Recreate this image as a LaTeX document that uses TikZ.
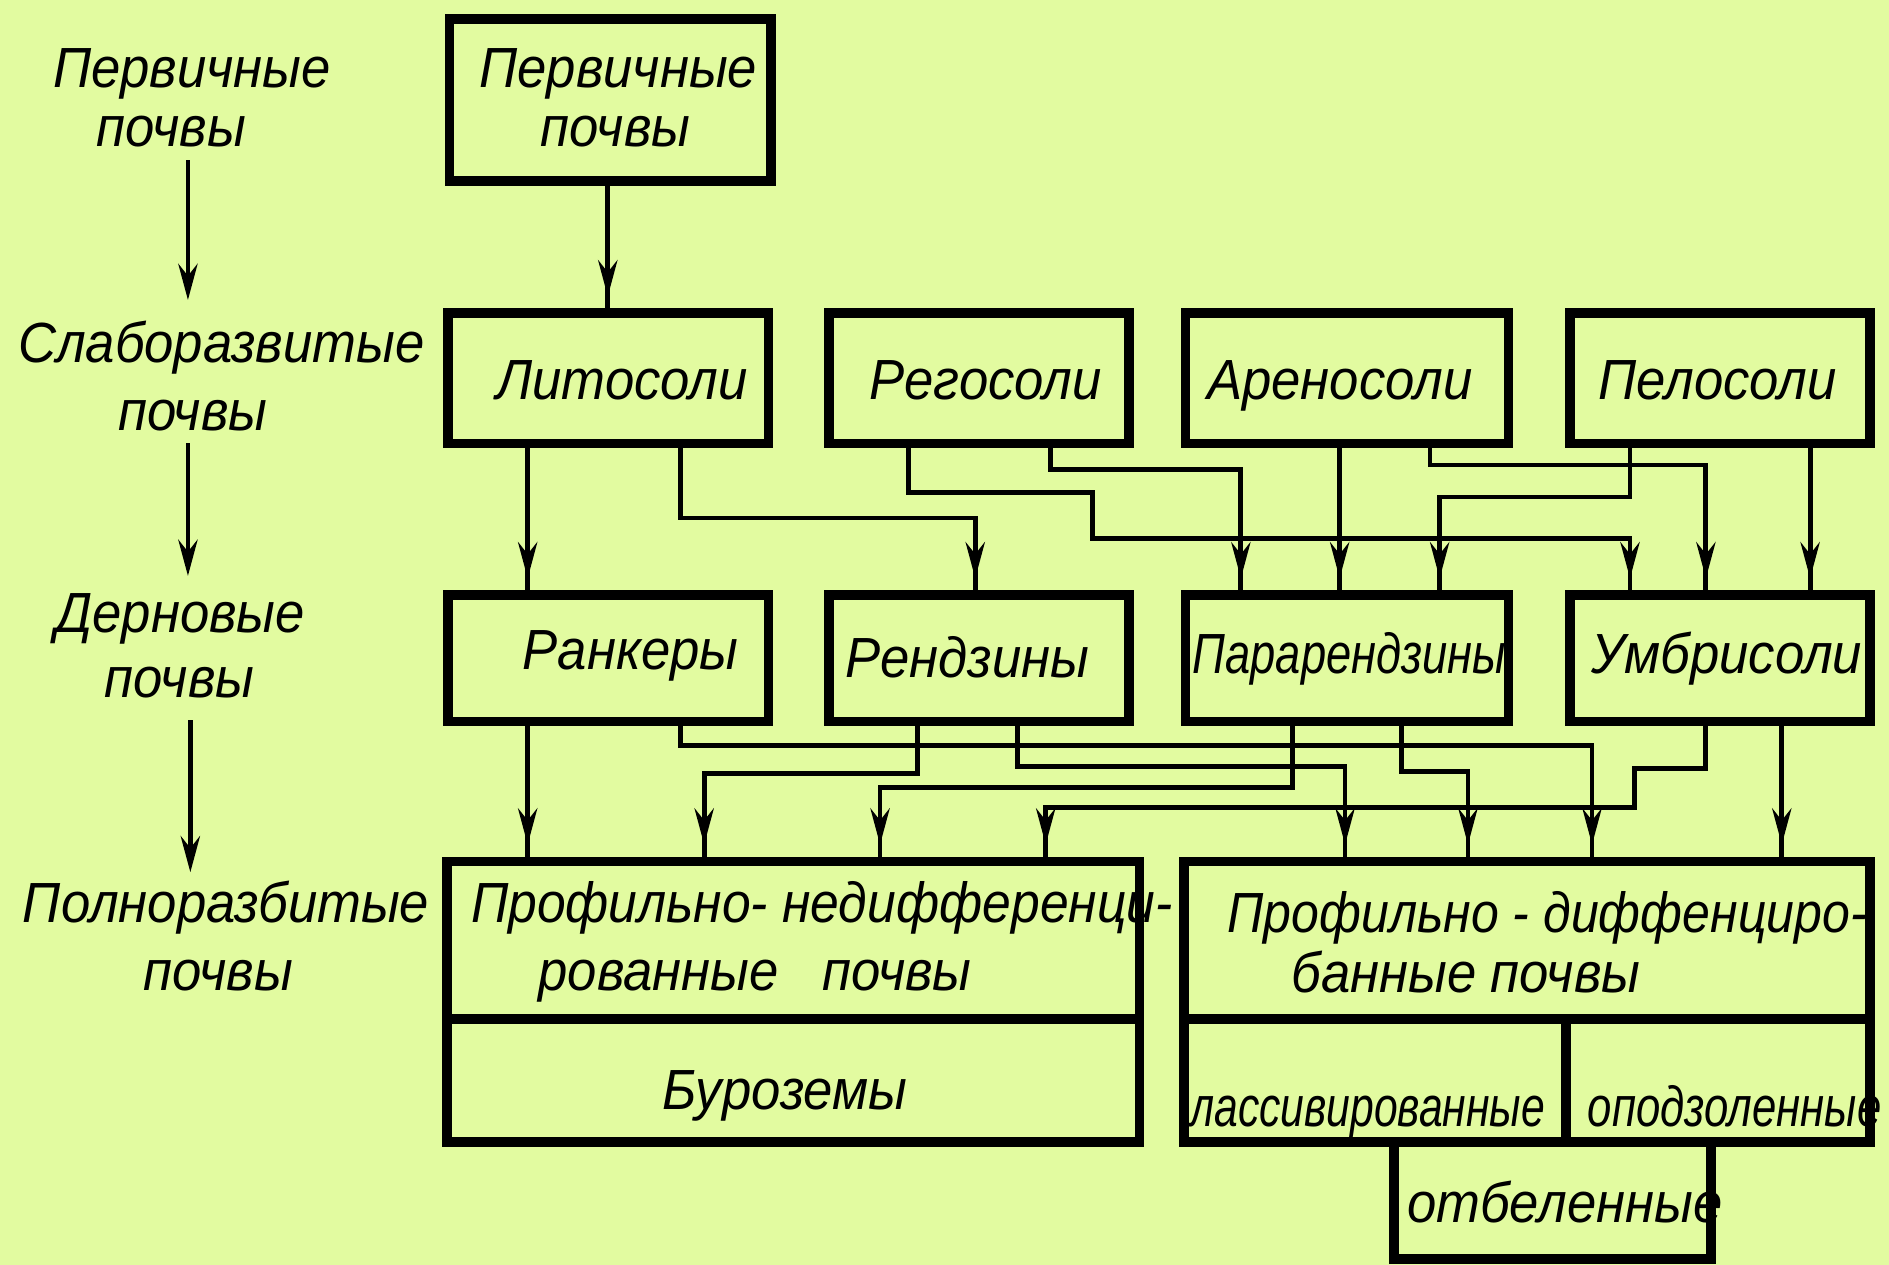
\documentclass[tikz,border=0pt]{standalone}
\usepackage{fontspec}
\setmainfont{Liberation Sans}[FakeStretch=0.93]
\usepackage{graphicx}
\usetikzlibrary{arrows.meta,decorations.markings,calc}
\definecolor{bgc}{RGB}{226,251,160}
\tikzset{
  lbl/.style={font=\fontsize{47}{56}\selectfont\itshape, inner sep=0pt, outer sep=0pt, anchor=base west},
  box/.style={draw, line width=8pt, inner sep=0pt, outer sep=0pt, rectangle},
  conn/.style={line width=4pt, postaction={decorate},
    decoration={markings, mark=at position -14pt with {\arrow{Stealth[length=30pt,width=16pt,inset=10pt]}}}},
  larr/.style={line width=4pt, -{Stealth[length=30pt,width=16pt,inset=10pt]}},
}
\begin{document}
\begin{tikzpicture}[x=1pt,y=-1pt]
\fill[bgc] (0,0) rectangle (1568,1050);
\useasboundingbox (0,0) rectangle (1568,1050);

% left-hand column labels
\node[lbl] (l1a) at (44,73) {Первичные};
\node[lbl] (l1b) at (80,122) {почвы};
\node[lbl] (l2a) at (15,301) {Слаборазвитые};
\node[lbl] (l2b) at (98,357) {почвы};
\node[lbl] (l3a) at (46,525) {Дерновые};
\node[lbl] (l3b) at (87,579) {почвы};
\node[lbl] (l4a) at (19,766) {Полноразбитые};
\node[lbl] (l4b) at (119,822) {почвы};

\draw[larr] ($(l1b.base west)+(76,11)$) -- ($(l2a.base west)+(141,-52)$);
\draw[larr] ($(l2b.base west)+(58,11)$) -- ($(l3a.base west)+(110,-47)$);
\draw[larr] ($(l3b.base west)+(71,19)$) -- ($(l4a.base west)+(139,-42)$);

% texts of the boxes
\node[lbl] (t0a) at (398,73) {Первичные};
\node[lbl] (t0b) at (449,122) {почвы};
\node[lbl] (tLito) at (412,332) {Литосоли};
\node[lbl] (tRego) at (722,332) {Регосоли};
\node[lbl] (tAren) at (1002,332) {Ареносоли};
\node[lbl] (tPelo) at (1327,332) {Пелосоли};
\node[lbl] (tRank) at (434,556) {Ранкеры};
\node[lbl] (tRend) at (702,562) {Рендзины};
\node[lbl] (tPara) at (990,559) {\scalebox{0.86}[1]{Парарендзины}};
\node[lbl] (tUmbr) at (1321,559) {Умбрисоли};
\node[lbl] (tPN1) at (391,766) {\scalebox{0.98}[1]{Профильно- недифференци-}};
\node[lbl] (tPN2) at (447,822) {рованные\hspace{24pt} почвы};
\node[lbl] (tBur) at (550,921) {Буроземы};
\node[lbl] (tPD1) at (1019,774) {\scalebox{0.95}[1]{Профильно - диффенциро-}};
\node[lbl] (tPD2) at (1072,824) {банные почвы};
\node[lbl] (tLas) at (988,935) {\scalebox{0.81}[1]{лассивированные}};
\node[lbl] (tOpo) at (1318,935) {\scalebox{0.83}[1]{оподзоленные}};
\node[lbl] (tOtb) at (1168,1015) {отбеленные};

% boxes
\node[box, minimum width=267pt, minimum height=134pt] (P0) at (506.5,83) {};
\node[box, minimum width=266pt, minimum height=108pt] (Lito) at (505,314) {};
\node[box, minimum width=249pt, minimum height=108pt] (Rego) at (812.5,314) {};
\node[box, minimum width=268pt, minimum height=108pt] (Aren) at (1118,314) {};
\node[box, minimum width=249pt, minimum height=108pt] (Pelo) at (1427.5,314) {};
\node[box, minimum width=266pt, minimum height=105pt] (Rank) at (505,546.5) {};
\node[box, minimum width=249pt, minimum height=105pt] (Rend) at (812.5,546.5) {};
\node[box, minimum width=268pt, minimum height=105pt] (Para) at (1118,546.5) {};
\node[box, minimum width=249pt, minimum height=105pt] (Umbr) at (1427.5,546.5) {};
\node[box, minimum width=575pt, minimum height=131pt] (BLt) at (658.5,780.5) {};
\node[box, minimum width=575pt, minimum height=102pt] (BLb) at (658.5,897) {};
\node[box, minimum width=569pt, minimum height=131pt] (BRt) at (1267.5,780.5) {};
\node[box, minimum width=317pt, minimum height=102pt] (BRl) at (1141.5,897) {};
\node[box, minimum width=252pt, minimum height=102pt] (BRr) at (1426,897) {};
\node[box, minimum width=263pt, minimum height=97pt] (OTB) at (1288.5,996.5) {};

% row 1 -> row 2
\draw[conn] ($(P0.south)+(-2,0)$) -- ($(Lito.north)+(-0.5,0)$);

% row 2 -> row 3
\draw[conn] ($(Lito.south)+(-67,0)$) -- ($(Rank.north)+(-67,0)$);
\draw[conn] ($(Lito.south)+(60,0)$) -- ++(0,62) -| ($(Rend.north)+(-3,0)$);
\draw[conn] ($(Rego.south)+(-58.5,0)$) -- ++(0,41) -- ++(153,0) -- ++(0,38) -| ($(Umbr.north)+(-74.5,0)$);
\draw[conn] ($(Rego.south)+(59.5,0)$) -- ++(0,22) -| ($(Para.north)+(-88,0)$);
\draw[conn] ($(Aren.south)+(-6,0)$) -- ($(Para.north)+(-6,0)$);
\draw[conn] ($(Aren.south)+(69,0)$) -- ++(0,18) -| ($(Umbr.north)+(-11.5,0)$);
\draw[conn] ($(Pelo.south)+(-74.5,0)$) -- ++(0,44.5) -| ($(Para.north)+(77,0)$);
\draw[conn] ($(Pelo.south)+(75,0)$) -- ($(Umbr.north)+(75,0)$);

% row 3 -> row 4
\draw[conn] ($(Rank.south)+(-67,0)$) -- ($(BLt.north)+(-220.5,0)$);
\draw[conn] ($(Rank.south)+(60,0)$) -- ++(0,19.5) -| ($(BRt.north)+(54,0)$);
\draw[conn] ($(Rend.south)+(-51,0)$) -- ++(0,43) -| ($(BLt.north)+(-74,0)$);
\draw[conn] ($(Rend.south)+(32,0)$) -- ++(0,37.5) -| ($(BRt.north)+(-151,0)$);
\draw[conn] ($(Para.south)+(-45,0)$) -- ++(0,55) -| ($(BLt.north)+(72,0)$);
\draw[conn] ($(Para.south)+(45.5,0)$) -- ++(0,41.5) -| ($(BRt.north)+(-49,0)$);
\draw[conn] ($(Umbr.south)+(-11.5,0)$) -- ++(0,39) -- ++(-59,0) -- ++(0,32) -| ($(BLt.north)+(209.5,0)$);
\draw[conn] ($(Umbr.south)+(51.5,0)$) -- ($(BRt.north)+(211.5,0)$);
\end{tikzpicture}
\end{document}
